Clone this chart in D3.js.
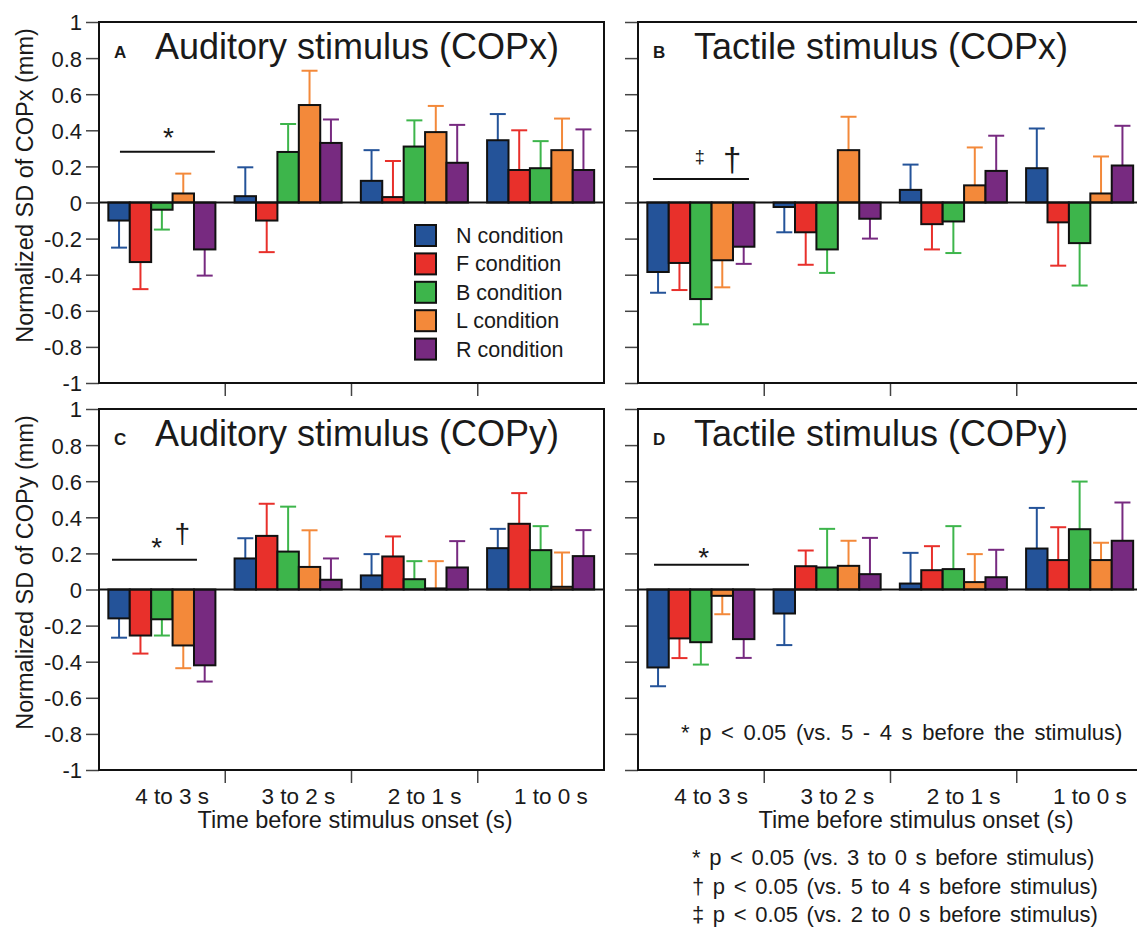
<!DOCTYPE html>
<html>
<head>
<meta charset="utf-8">
<script src="https://cdn.jsdelivr.net/npm/d3@7"></script>
<style>
  body { margin: 0; background: #fff; }
  svg text { font-family: "Liberation Sans", Arial, sans-serif; fill: #1a1a1a; }
</style>
</head>
<body>
<svg id="chart"></svg>
<script>
// categories
const periods = ["4 to 3 s", "3 to 2 s", "2 to 1 s", "1 to 0 s"]
const conditions = ["N condition", "F condition", "B condition", "L condition", "R condition"]
const yTicks = [1, 0.8, 0.6, 0.4, 0.2, 0, -0.2, -0.4, -0.6, -0.8, -1]

// rows = periods, columns = conditions (N, F, B, L, R)
const auditoryCOPxMean = [
    [-0.10, -0.33, -0.04, 0.05, -0.26],
    [0.035, -0.10, 0.28, 0.54, 0.33],
    [0.12, 0.03, 0.31, 0.39, 0.22],
    [0.345, 0.18, 0.19, 0.29, 0.18]
]
const auditoryCOPxSD = [
    [0.15, 0.15, 0.11, 0.11, 0.145],
    [0.16, 0.175, 0.155, 0.19, 0.13],
    [0.17, 0.20, 0.145, 0.145, 0.21],
    [0.145, 0.22, 0.15, 0.175, 0.225]
]
const tactileCOPxMean = [
    [-0.385, -0.335, -0.535, -0.32, -0.245],
    [-0.025, -0.165, -0.26, 0.29, -0.09],
    [0.07, -0.12, -0.105, 0.095, 0.175],
    [0.19, -0.11, -0.225, 0.05, 0.205]
]
const tactileCOPxSD = [
    [0.115, 0.15, 0.14, 0.15, 0.095],
    [0.14, 0.18, 0.13, 0.185, 0.11],
    [0.14, 0.14, 0.175, 0.21, 0.195],
    [0.22, 0.24, 0.235, 0.205, 0.22]
]
const auditoryCOPyMean = [
    [-0.16, -0.255, -0.165, -0.31, -0.42],
    [0.172, 0.297, 0.21, 0.125, 0.054],
    [0.078, 0.183, 0.057, 0.006, 0.122],
    [0.229, 0.364, 0.218, 0.015, 0.185]
]
const auditoryCOPySD = [
    [0.107, 0.10, 0.09, 0.126, 0.09],
    [0.112, 0.178, 0.249, 0.203, 0.118],
    [0.118, 0.111, 0.10, 0.151, 0.146],
    [0.107, 0.17, 0.133, 0.19, 0.144]
]
const tactileCOPyMean = [
    [-0.432, -0.271, -0.292, -0.035, -0.275],
    [-0.133, 0.129, 0.122, 0.131, 0.085],
    [0.033, 0.107, 0.113, 0.041, 0.068],
    [0.227, 0.163, 0.334, 0.163, 0.27]
]
const tactileCOPySD = [
    [0.104, 0.109, 0.124, 0.102, 0.104],
    [0.175, 0.087, 0.214, 0.139, 0.201],
    [0.17, 0.133, 0.238, 0.155, 0.152],
    [0.225, 0.182, 0.264, 0.096, 0.212]
]

const footnotes = [
    "* p < 0.05 (vs. 3 to 0 s before stimulus)",
    "\u2020 p < 0.05 (vs. 5 to 4 s before stimulus)",
    "\u2021 p < 0.05 (vs. 2 to 0 s before stimulus)"
]

const colors = ["#245399", "#e8302b", "#3db54b", "#f3893a", "#772a80"]

let svg = d3.select("#chart")
    .attr("width", 1137)
    .attr("height", 929)

let font = '"Liberation Sans", Arial, sans-serif'

let drawPanel = (cfg) => {
    let g = svg.append("g")

    let xBand = d3.scaleBand()
        .domain(periods)
        .range([cfg.left, cfg.right])
    let bw = xBand.bandwidth()
    let xInner = d3.scaleBand()
        .domain(conditions)
        .range([bw * 0.074, bw * 0.922])
    let y = d3.scaleLinear()
        .domain([-1, 1])
        .range([cfg.bottom, cfg.top])

    // y axis
    let yAxis = d3.axisLeft(y)
        .tickValues(yTicks)
        .tickSize(13)
        .tickPadding(4)
        .tickFormat(cfg.labels ? (d) => String(Math.round(d * 10) / 10) : "")
    let ya = g.append("g")
        .attr("transform", "translate(" + cfg.left + ",0)")
        .call(yAxis)
    ya.select(".domain").remove()
    ya.selectAll("line").attr("stroke", "#444").attr("stroke-width", 1.5)
    ya.selectAll("text")
        .attr("font-family", font)
        .attr("font-size", 22)
        .attr("fill", "#1a1a1a")
        .attr("dy", "0.36em")

    // x ticks between periods
    g.selectAll(".xtick")
        .data(periods.slice(1))
        .enter()
        .append("line")
        .attr("x1", (p) => xBand(p))
        .attr("x2", (p) => xBand(p))
        .attr("y1", cfg.bottom)
        .attr("y2", cfg.bottom + 13)
        .attr("stroke", "#444")
        .attr("stroke-width", 1.5)

    if (cfg.xLabels) {
        let xAxis = d3.axisBottom(xBand).tickSize(0).tickPadding(18)
        let xa = g.append("g")
            .attr("transform", "translate(10," + cfg.bottom + ")")
            .call(xAxis)
        xa.select(".domain").remove()
        xa.selectAll("text")
            .attr("font-family", font)
            .attr("font-size", 22.5)
            .attr("fill", "#1a1a1a")
        g.append("text")
            .attr("x", cfg.xTitleX)
            .attr("y", cfg.bottom + 58)
            .attr("text-anchor", "middle")
            .attr("font-size", 23.5)
            .text("Time before stimulus onset (s)")
    }

    let rows = []
    cfg.mean.forEach((vals, i) => {
        vals.forEach((v, j) => {
            rows.push({ period: periods[i], cond: conditions[j], ci: j, value: v, err: cfg.sd[i][j] })
        })
    })

    let bx = (d) => xBand(d.period) + xInner(d.cond)
    let cx = (d) => bx(d) + xInner.bandwidth() / 2
    let tip = (d) => d.value >= 0 ? d.value + d.err : d.value - d.err

    // error bars
    let eb = g.selectAll(".err")
        .data(rows)
        .enter()
        .append("g")
        .attr("stroke", (d) => colors[d.ci])
        .attr("stroke-width", 2)
    eb.append("line")
        .attr("x1", cx).attr("x2", cx)
        .attr("y1", (d) => y(d.value))
        .attr("y2", (d) => y(tip(d)))
    eb.append("line")
        .attr("x1", (d) => cx(d) - 8).attr("x2", (d) => cx(d) + 8)
        .attr("y1", (d) => y(tip(d)))
        .attr("y2", (d) => y(tip(d)))

    // bars
    g.selectAll(".bar")
        .data(rows)
        .enter()
        .append("rect")
        .attr("x", bx)
        .attr("width", xInner.bandwidth())
        .attr("y", (d) => y(Math.max(0, d.value)))
        .attr("height", (d) => Math.abs(y(d.value) - y(0)))
        .attr("fill", (d) => colors[d.ci])
        .attr("stroke", "#111")
        .attr("stroke-width", 2)

    // zero line
    g.append("line")
        .attr("x1", cfg.left).attr("x2", cfg.right)
        .attr("y1", y(0)).attr("y2", y(0))
        .attr("stroke", "#111")
        .attr("stroke-width", 2)

    // frame
    g.append("rect")
        .attr("x", cfg.left).attr("y", cfg.top)
        .attr("width", cfg.right - cfg.left)
        .attr("height", cfg.bottom - cfg.top)
        .attr("fill", "none")
        .attr("stroke", "#111")
        .attr("stroke-width", 2)

    // panel letter and title
    g.append("text")
        .attr("x", cfg.left + 15)
        .attr("y", cfg.top + 36)
        .attr("font-size", 17)
        .attr("font-weight", "bold")
        .text(cfg.letter)
    g.append("text")
        .attr("x", cfg.left + 56)
        .attr("y", cfg.top + 37)
        .attr("font-size", 36)
        .text(cfg.title)

    // significance line and marks
    let s = cfg.sig
    g.append("line")
        .attr("x1", xBand(periods[0]) + bw * s.from)
        .attr("x2", xBand(periods[0]) + bw * s.to)
        .attr("y1", y(s.level)).attr("y2", y(s.level))
        .attr("stroke", "#111")
        .attr("stroke-width", 2)
    s.marks.forEach((m) => {
        g.append("text")
            .attr("x", xBand(periods[0]) + bw * m.at)
            .attr("y", y(s.level) - m.lift)
            .attr("text-anchor", "middle")
            .attr("font-size", m.size)
            .text(m.sym)
    })

    if (cfg.yTitle) {
        g.append("text")
            .attr("transform", "translate(33," + ((cfg.top + cfg.bottom) / 2 - 17) + ") rotate(-90)")
            .attr("text-anchor", "middle")
            .attr("font-size", 23.5)
            .text(cfg.yTitle)
    }
    return g
}

let panelA = drawPanel({
    left: 99, right: 604, top: 22, bottom: 383, labels: true,
    letter: "A", title: "Auditory stimulus (COPx)",
    mean: auditoryCOPxMean, sd: auditoryCOPxSD,
    yTitle: "Normalized SD of COPx (mm)",
    sig: { level: 0.281, from: 0.166, to: 0.918, marks: [{ sym: "*", at: 0.55, size: 28, lift: 5 }] }
})
drawPanel({
    left: 638, right: 1143, top: 22, bottom: 383, labels: false,
    letter: "B", title: "Tactile stimulus (COPx)",
    mean: tactileCOPxMean, sd: tactileCOPxSD,
    sig: { level: 0.13, from: 0.119, to: 0.879, marks: [
        { sym: "\u2021", at: 0.49, size: 18, lift: 16 },
        { sym: "\u2020", at: 0.745, size: 33, lift: 8 }] }
})
drawPanel({
    left: 99, right: 604, top: 409, bottom: 770, labels: true,
    letter: "C", title: "Auditory stimulus (COPy)",
    mean: auditoryCOPyMean, sd: auditoryCOPySD,
    yTitle: "Normalized SD of COPy (mm)",
    xLabels: true, xTitleX: 355,
    sig: { level: 0.165, from: 0.103, to: 0.776, marks: [
        { sym: "*", at: 0.457, size: 28, lift: 3 },
        { sym: "\u2020", at: 0.66, size: 28, lift: 17 }] }
})
let panelD = drawPanel({
    left: 638, right: 1143, top: 409, bottom: 770, labels: false,
    letter: "D", title: "Tactile stimulus (COPy)",
    mean: tactileCOPyMean, sd: tactileCOPySD,
    xLabels: true, xTitleX: 916,
    sig: { level: 0.137, from: 0.127, to: 0.879, marks: [{ sym: "*", at: 0.52, size: 28, lift: -2 }] }
})

panelD.append("text")
    .attr("x", 681)
    .attr("y", 740)
    .attr("font-size", 22)
    .attr("word-spacing", 3.5)
    .text("* p < 0.05 (vs. 5 - 4 s before the stimulus)")

// legend in panel A
let legend = panelA.selectAll(".legend")
    .data(conditions)
    .enter()
    .append("g")
    .attr("transform", (d, i) => "translate(415," + (225 + i * 28.4) + ")")
legend.append("rect")
    .attr("width", 21)
    .attr("height", 21)
    .attr("fill", (d, i) => colors[i])
    .attr("stroke", "#111")
    .attr("stroke-width", 2)
legend.append("text")
    .attr("x", 41)
    .attr("y", 18)
    .attr("font-size", 21.5)
    .text((d) => d)

svg.selectAll(".foot")
    .data(footnotes)
    .enter()
    .append("text")
    .attr("x", 692)
    .attr("y", (d, i) => 865 + i * 28.5)
    .attr("font-size", 22)
    .attr("word-spacing", 2.5)
    .text((d) => d)
</script>
</body>
</html>
